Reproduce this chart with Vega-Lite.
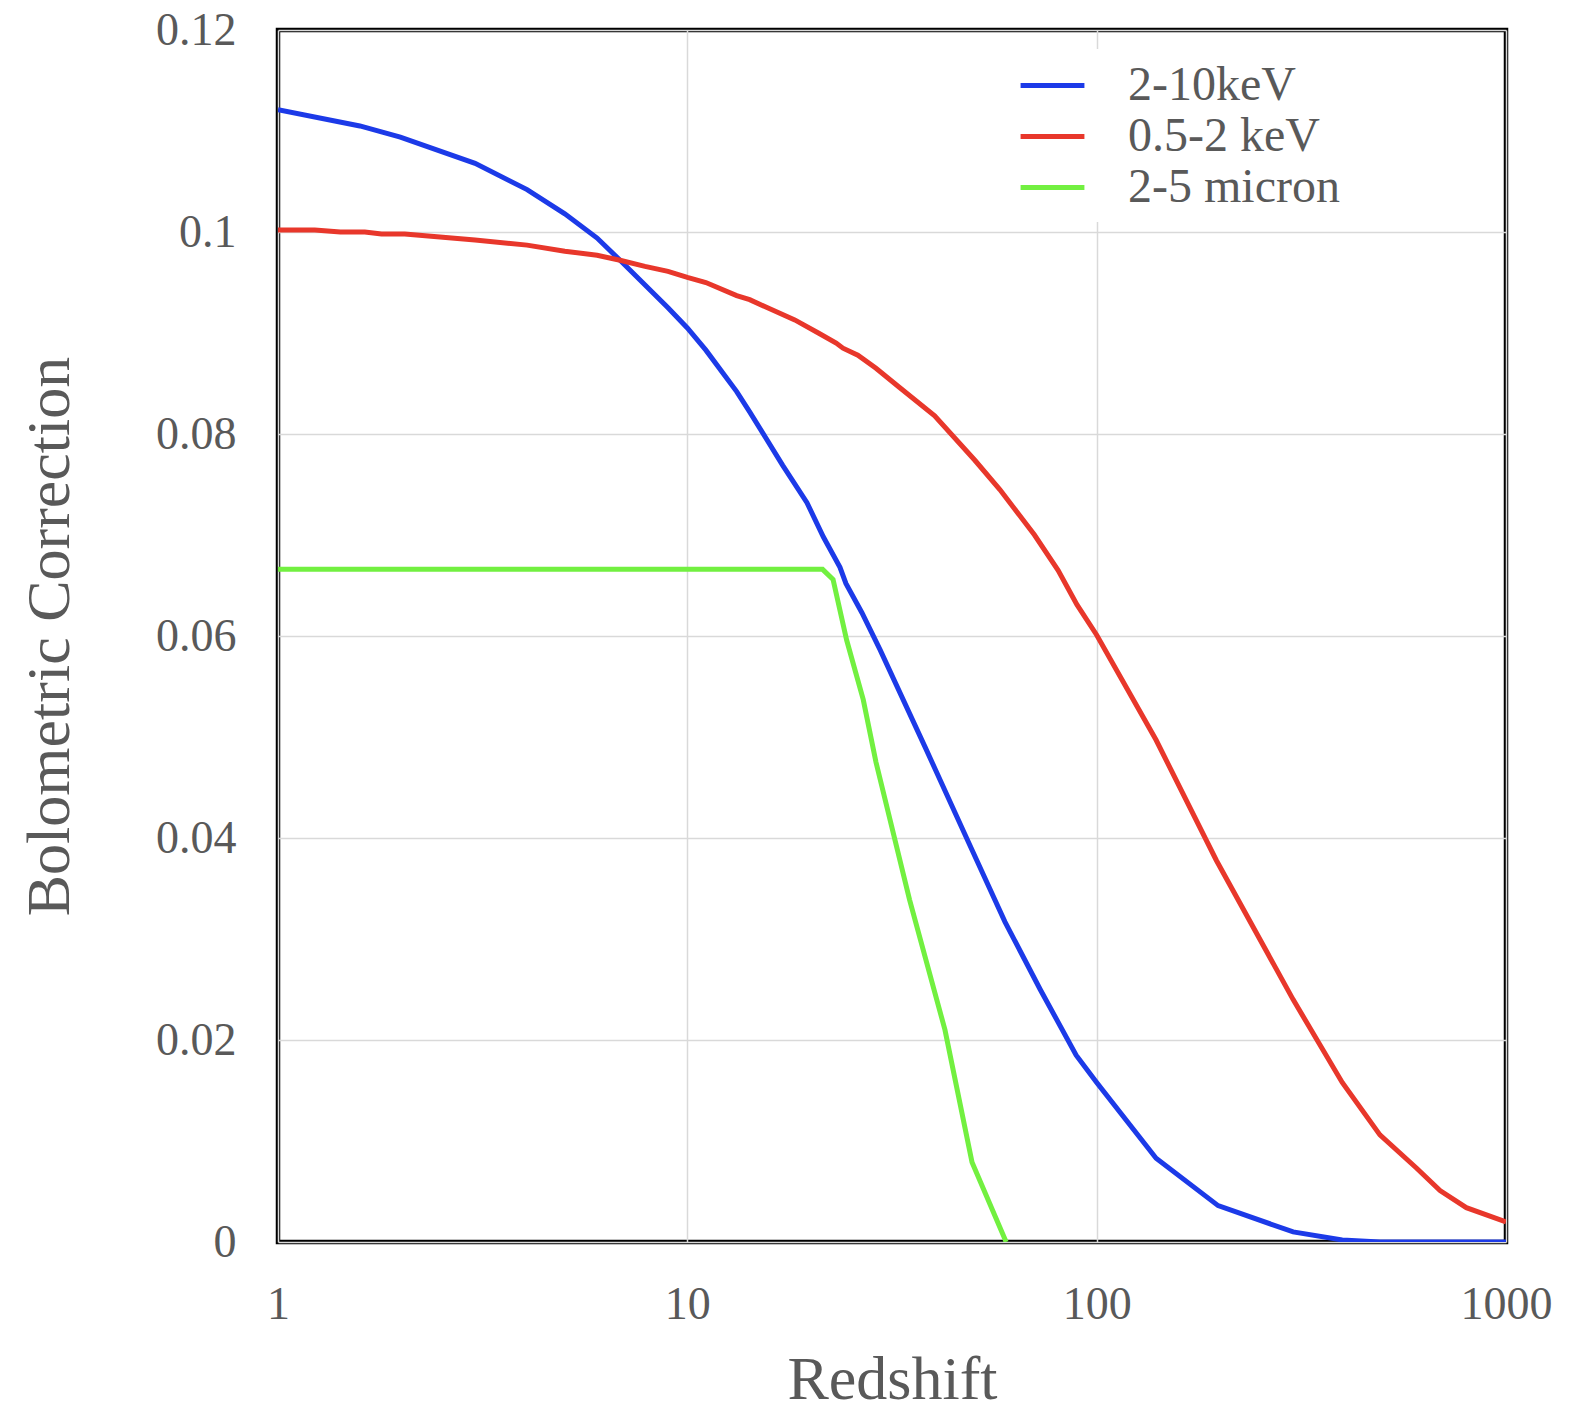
{
  "$schema": "https://vega.github.io/schema/vega-lite/v6.json",
  "autosize": "none",
  "width": 1228,
  "height": 1212,
  "padding": {"left": 278, "top": 30, "right": 70, "bottom": 176},
  "background": "white",
  "config": {
    "font": "Liberation Serif",
    "view": {"stroke": "black", "strokeWidth": 4.5},
    "axis": {
      "labelFont": "Liberation Serif",
      "titleFont": "Liberation Serif",
      "labelColor": "#595959",
      "titleColor": "#595959",
      "labelFontSize": 46,
      "titleFontSize": 62,
      "titleFontWeight": "normal",
      "gridColor": "#d9d9d9",
      "gridWidth": 1.5,
      "domain": false,
      "ticks": false,
      "labelFlush": false
    }
  },
  "data": {
    "values": [
      {"z": 1, "bc": 0.1121, "band": "2-10keV"},
      {"z": 1.585, "bc": 0.1105, "band": "2-10keV"},
      {"z": 1.99, "bc": 0.1094, "band": "2-10keV"},
      {"z": 3.03, "bc": 0.1068, "band": "2-10keV"},
      {"z": 4.06, "bc": 0.1042, "band": "2-10keV"},
      {"z": 5.02, "bc": 0.1018, "band": "2-10keV"},
      {"z": 6.02, "bc": 0.0994, "band": "2-10keV"},
      {"z": 6.85, "bc": 0.0972, "band": "2-10keV"},
      {"z": 8.97, "bc": 0.0925, "band": "2-10keV"},
      {"z": 10, "bc": 0.0905, "band": "2-10keV"},
      {"z": 11.1, "bc": 0.0883, "band": "2-10keV"},
      {"z": 13.2, "bc": 0.0842, "band": "2-10keV"},
      {"z": 14.2, "bc": 0.0822, "band": "2-10keV"},
      {"z": 17.1, "bc": 0.0769, "band": "2-10keV"},
      {"z": 19.6, "bc": 0.0732, "band": "2-10keV"},
      {"z": 21.5, "bc": 0.0698, "band": "2-10keV"},
      {"z": 23.6, "bc": 0.0668, "band": "2-10keV"},
      {"z": 24.4, "bc": 0.0652, "band": "2-10keV"},
      {"z": 26.7, "bc": 0.0623, "band": "2-10keV"},
      {"z": 29.6, "bc": 0.0586, "band": "2-10keV"},
      {"z": 38.1, "bc": 0.0490, "band": "2-10keV"},
      {"z": 49.1, "bc": 0.0392, "band": "2-10keV"},
      {"z": 59.7, "bc": 0.0317, "band": "2-10keV"},
      {"z": 72.8, "bc": 0.0250, "band": "2-10keV"},
      {"z": 89.1, "bc": 0.0185, "band": "2-10keV"},
      {"z": 100, "bc": 0.0158, "band": "2-10keV"},
      {"z": 139.7, "bc": 0.0083, "band": "2-10keV"},
      {"z": 198, "bc": 0.0036, "band": "2-10keV"},
      {"z": 302, "bc": 0.0010, "band": "2-10keV"},
      {"z": 398, "bc": 0.0002, "band": "2-10keV"},
      {"z": 492, "bc": 0.0, "band": "2-10keV"},
      {"z": 1000, "bc": 0.0, "band": "2-10keV"},
      {"z": 1, "bc": 0.1002, "band": "0.5-2 keV"},
      {"z": 1.23, "bc": 0.1002, "band": "0.5-2 keV"},
      {"z": 1.42, "bc": 0.1000, "band": "0.5-2 keV"},
      {"z": 1.63, "bc": 0.1000, "band": "0.5-2 keV"},
      {"z": 1.79, "bc": 0.0998, "band": "0.5-2 keV"},
      {"z": 2.04, "bc": 0.0998, "band": "0.5-2 keV"},
      {"z": 3.03, "bc": 0.0992, "band": "0.5-2 keV"},
      {"z": 4.06, "bc": 0.0987, "band": "0.5-2 keV"},
      {"z": 5.02, "bc": 0.0981, "band": "0.5-2 keV"},
      {"z": 6.02, "bc": 0.0977, "band": "0.5-2 keV"},
      {"z": 6.85, "bc": 0.0972, "band": "0.5-2 keV"},
      {"z": 7.88, "bc": 0.0966, "band": "0.5-2 keV"},
      {"z": 8.97, "bc": 0.0961, "band": "0.5-2 keV"},
      {"z": 10, "bc": 0.0955, "band": "0.5-2 keV"},
      {"z": 11.1, "bc": 0.0950, "band": "0.5-2 keV"},
      {"z": 13.2, "bc": 0.0937, "band": "0.5-2 keV"},
      {"z": 14.2, "bc": 0.0933, "band": "0.5-2 keV"},
      {"z": 15.9, "bc": 0.0924, "band": "0.5-2 keV"},
      {"z": 18.3, "bc": 0.0913, "band": "0.5-2 keV"},
      {"z": 20.9, "bc": 0.0900, "band": "0.5-2 keV"},
      {"z": 23.1, "bc": 0.0890, "band": "0.5-2 keV"},
      {"z": 24, "bc": 0.0885, "band": "0.5-2 keV"},
      {"z": 26.1, "bc": 0.0878, "band": "0.5-2 keV"},
      {"z": 28.9, "bc": 0.0865, "band": "0.5-2 keV"},
      {"z": 33, "bc": 0.0846, "band": "0.5-2 keV"},
      {"z": 40.2, "bc": 0.0818, "band": "0.5-2 keV"},
      {"z": 50.4, "bc": 0.0774, "band": "0.5-2 keV"},
      {"z": 58, "bc": 0.0745, "band": "0.5-2 keV"},
      {"z": 70.5, "bc": 0.0700, "band": "0.5-2 keV"},
      {"z": 80.5, "bc": 0.0665, "band": "0.5-2 keV"},
      {"z": 89.5, "bc": 0.0631, "band": "0.5-2 keV"},
      {"z": 100, "bc": 0.0601, "band": "0.5-2 keV"},
      {"z": 139.7, "bc": 0.0497, "band": "0.5-2 keV"},
      {"z": 196, "bc": 0.0378, "band": "0.5-2 keV"},
      {"z": 302, "bc": 0.0240, "band": "0.5-2 keV"},
      {"z": 398, "bc": 0.0158, "band": "0.5-2 keV"},
      {"z": 492, "bc": 0.0106, "band": "0.5-2 keV"},
      {"z": 605, "bc": 0.0073, "band": "0.5-2 keV"},
      {"z": 690, "bc": 0.0051, "band": "0.5-2 keV"},
      {"z": 800, "bc": 0.0034, "band": "0.5-2 keV"},
      {"z": 1000, "bc": 0.0020, "band": "0.5-2 keV"},
      {"z": 1, "bc": 0.0666, "band": "2-5 micron"},
      {"z": 21.4, "bc": 0.0666, "band": "2-5 micron"},
      {"z": 22.7, "bc": 0.0656, "band": "2-5 micron"},
      {"z": 24.5, "bc": 0.0596, "band": "2-5 micron"},
      {"z": 26.9, "bc": 0.0537, "band": "2-5 micron"},
      {"z": 28.9, "bc": 0.0475, "band": "2-5 micron"},
      {"z": 34.9, "bc": 0.0339, "band": "2-5 micron"},
      {"z": 42.6, "bc": 0.0210, "band": "2-5 micron"},
      {"z": 49.6, "bc": 0.0079, "band": "2-5 micron"},
      {"z": 60.1, "bc": 0.0, "band": "2-5 micron"}
    ]
  },
  "mark": {"type": "line", "strokeWidth": 5, "clip": true},
  "encoding": {
    "x": {
      "field": "z",
      "type": "quantitative",
      "title": "Redshift",
      "scale": {"type": "log", "domain": [1, 1000]},
      "axis": {"values": [1, 10, 100, 1000], "format": "d", "labelPadding": 40, "titlePadding": 22}
    },
    "y": {
      "field": "bc",
      "type": "quantitative",
      "title": "Bolometric Correction",
      "scale": {"domain": [0, 0.12], "nice": false},
      "axis": {"values": [0, 0.02, 0.04, 0.06, 0.08, 0.1, 0.12], "format": ".2~f", "labelPadding": 42, "titlePadding": 74}
    },
    "color": {
      "field": "band",
      "type": "nominal",
      "title": null,
      "scale": {"domain": ["2-10keV", "0.5-2 keV", "2-5 micron"], "range": ["#1c3ae8", "#e8372b", "#72f040"]},
      "legend": {
        "orient": "none",
        "legendX": 738,
        "legendY": 19,
        "padding": 10,
        "fillColor": "white",
        "symbolType": "M-1.33,0H1.33",
        "symbolSize": 2304,
        "symbolStrokeWidth": 5,
        "symbolStrokeCap": "round",
        "labelFont": "Liberation Serif",
        "labelFontSize": 48,
        "labelColor": "#595959",
        "labelOffset": 49,
        "labelLimit": 0,
        "rowPadding": 0
      }
    }
  }
}
